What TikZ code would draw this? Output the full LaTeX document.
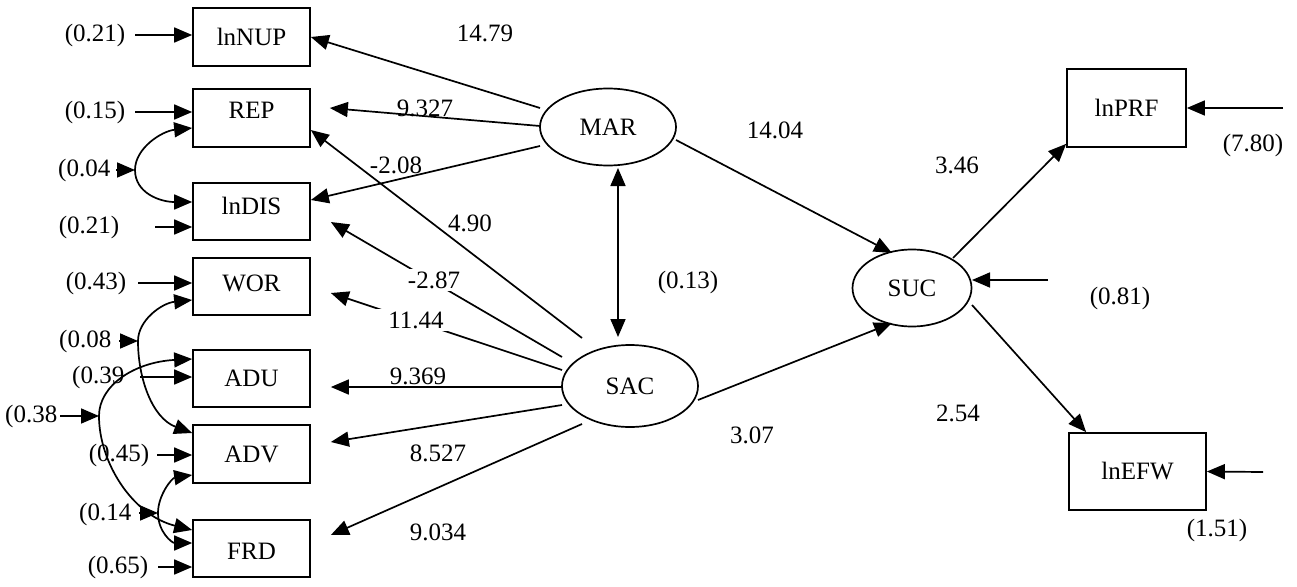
\documentclass[tikz,border=0pt]{standalone}
\usepackage{fontspec}
\setmainfont{Liberation Serif}
\usetikzlibrary{arrows.meta,shapes.geometric}
\begin{document}
\begin{tikzpicture}[x=1pt,y=-1pt,
  every node/.style={font=\fontsize{25}{29}\selectfont, inner sep=0pt},
  obs/.style={draw, line width=1.7pt, minimum width=117pt, minimum height=58pt},
  lat/.style={draw, ellipse, line width=1.7pt},
  arr/.style={line width=1.7pt, -{Triangle[length=18pt,width=15pt]}},
  dbl/.style={line width=1.7pt, {Triangle[length=18pt,width=15pt]}-{Triangle[length=18pt,width=15pt]}},
  cover/.style={fill=white, inner xsep=12pt, inner ysep=3pt}]
\useasboundingbox[fill=white] (0,0) rectangle (1297,586);

% observed variables
\node[obs] (lnNUP) at (251.5,37) {lnNUP};
\node[obs, label={[yshift=8pt]center:REP}] (REP) at (251.5,118) {};
\node[obs, minimum height=57pt, label={[yshift=6pt]center:lnDIS}] (lnDIS) at (251.5,211.5) {};
\node[obs, minimum height=57pt, label={[yshift=3pt]center:WOR}] (WOR) at (251.5,286.5) {};
\node[obs, minimum height=57pt] (ADU) at (251.5,378.5) {ADU};
\node[obs] (ADV) at (251.5,454) {ADV};
\node[obs, minimum height=57pt, label={[yshift=-3pt]center:FRD}] (FRD) at (251.5,548.5) {};
\node[obs, minimum width=119pt, minimum height=78pt] (lnPRF) at (1126.5,108) {lnPRF};
\node[obs, minimum width=137pt, minimum height=77pt] (lnEFW) at (1137.5,471.5) {lnEFW};

% latent variables
\node[lat, minimum width=136pt, minimum height=77pt] (MAR) at (608,127) {MAR};
\node[lat, minimum width=136pt, minimum height=82pt] (SAC) at (630,386) {SAC};
\node[lat, minimum width=119pt, minimum height=77pt] (SUC) at (912,288) {SUC};

% MAR paths
\draw[arr] ([shift={(-68,-19)}]MAR.center) -- (lnNUP.east);
\draw[arr] ([shift={(-68,-1)}]MAR.center) -- ([shift={(19,-10)}]REP.east);
\draw[arr] ([shift={(-68,19)}]MAR.center) -- ([shift={(0,-11.5)}]lnDIS.east);
\draw[arr] ([shift={(68,13)}]MAR.center) -- ([shift={(-20,-35)}]SUC.center);
\draw[dbl] ([shift={(10,41)}]MAR.center) -- ([shift={(-12,-49)}]SAC.center);

% SAC paths
\draw[arr] ([shift={(-48,-48)}]SAC.center) -- ([shift={(0,12)}]REP.east);
\draw[arr] ([shift={(-68,-29)}]SAC.center) -- ([shift={(20,10.5)}]lnDIS.east);
\draw[arr] ([shift={(-68,-16)}]SAC.center) -- ([shift={(20,6.5)}]WOR.east);
\draw[arr] ([shift={(-68,1)}]SAC.center) -- ([shift={(20,8.5)}]ADU.east);
\draw[arr] ([shift={(-68,19)}]SAC.center) -- ([shift={(20,-12)}]ADV.east);
\draw[arr] ([shift={(-48,38)}]SAC.center) -- ([shift={(20,-13.5)}]FRD.east);
\draw[arr] ([shift={(68,14)}]SAC.center) -- ([shift={(-20,35)}]SUC.center);

% SUC paths
\draw[arr] ([shift={(41,-30)}]SUC.center) -- ([shift={(0,-4)}]lnPRF.south west);
\draw[arr] ([shift={(60,17)}]SUC.center) -- ([shift={(18,0)}]lnEFW.north west);

% path coefficients
\node at (485,33) {14.79};
\node at (425,108) {9.327};
\node at (396,165) {-2.08};
\node at (470,223) {4.90};
\node[cover] at (434,280) {-2.87};
\node[cover] at (416,320) {11.44};
\node at (418,376) {9.369};
\node at (438,453) {8.527};
\node at (438,532) {9.034};
\node at (775,130) {14.04};
\node at (688,282) {(0.13)};
\node at (752,435) {3.07};
\node at (957,165) {3.46};
\node at (958,413) {2.54};

% right-side errors
\coordinate (ePRF) at (1283,108);
\coordinate (eSUC) at (1048,280);
\coordinate (eEFW) at (1263,472);
\draw[arr] (ePRF) -- (lnPRF.east);
\draw[arr] (eSUC) -- ([shift={(60,-8)}]SUC.center);
\draw[arr] (eEFW) -- (lnEFW.east);
\node at (1253,145) {(7.80)};
\node at (1120,298) {(0.81)};
\node at (1217,530) {(1.51)};

% left-side errors
\coordinate (e1) at (135,35);
\coordinate (e2) at (135,112);
\coordinate (e3) at (155,227);
\coordinate (e4) at (138,283);
\coordinate (e5) at (140,377);
\coordinate (e6) at (157,455);
\coordinate (e7) at (158,567);
\draw[arr] (e1) -- ([shift={(0,-2)}]lnNUP.west);
\draw[arr] (e2) -- ([shift={(0,-6)}]REP.west);
\draw[arr] (e3) -- ([shift={(0,15.5)}]lnDIS.west);
\draw[arr] (e4) -- ([shift={(0,-3.5)}]WOR.west);
\draw[arr] (e5) -- ([shift={(0,-1.5)}]ADU.west);
\draw[arr] (e6) -- ([shift={(0,1)}]ADV.west);
\draw[arr] (e7) -- ([shift={(0,18.5)}]FRD.west);
\node at (95,35) {(0.21)};
\node at (95,112) {(0.15)};
\node at (89,227) {(0.21)};
\node at (96,283) {(0.43)};
\node[anchor=west] at (72,377) {(0.39};
\node at (119,455) {(0.45)};
\node at (118,567) {(0.65)};

% covariances
\coordinate (c1) at (135,170);
\coordinate (c2) at (138,341);
\coordinate (c3) at (99,416);
\coordinate (c4) at (158,513);
\draw[dbl] ([shift={(0,10)}]REP.west) .. controls (162,131) and (135,148) .. (c1)
  .. controls (135,193) and (160,202) .. ([shift={(0,-9.5)}]lnDIS.west);
\draw[dbl] ([shift={(0,13.5)}]WOR.west) .. controls (162,303) and (138,320) .. (c2)
  .. controls (138,378) and (152,418) .. ([shift={(0,-21)}]ADV.west);
\draw[dbl] ([shift={(0,-19.5)}]ADU.west) .. controls (135,362) and (99,385) .. (c3)
  .. controls (99,462) and (132,515) .. ([shift={(0,-18.5)}]FRD.west);
\draw[dbl] ([shift={(0,21)}]ADV.west) .. controls (172,478) and (158,495) .. (c4)
  .. controls (158,532) and (172,543) .. ([shift={(0,-5.5)}]FRD.west);

\coordinate (a1) at (116,170);
\coordinate (a2) at (119,341);
\coordinate (a3) at (60,416);
\coordinate (a4) at (139,513);
\draw[arr] (a1) -- (c1);
\draw[arr] (a2) -- (c2);
\draw[arr] (a3) -- (c3);
\draw[arr] (a4) -- (c4);
\node[anchor=west] at (58,170) {(0.04};
\node[anchor=west] at (59,341) {(0.08};
\node[anchor=west] at (5,416) {(0.38};
\node[anchor=west] at (79,514) {(0.14};
\end{tikzpicture}
\end{document}
